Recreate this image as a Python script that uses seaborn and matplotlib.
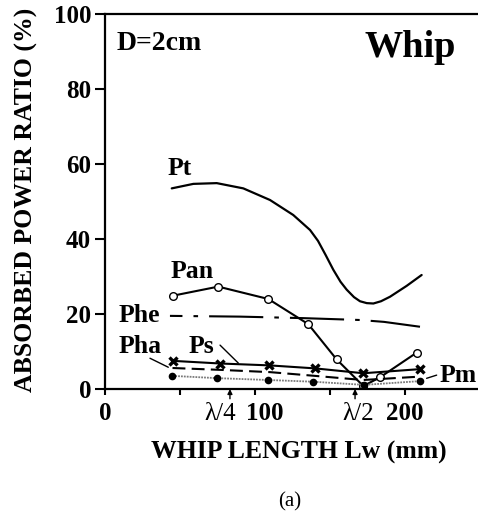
import matplotlib
matplotlib.use("Agg")
import matplotlib.pyplot as plt
import matplotlib.transforms as mtransforms
import seaborn as sns

# Whip length (mm) and absorbed power ratios (%)
pt_x = [44.5, 58.9, 74.5, 92.2, 110.0, 125.5, 136.7, 142.0, 147.0, 152.2, 157.0, 161.1, 166.0, 170.0, 174.5, 178.9, 184.0, 190.0, 201.1, 211.1]
pt_y = [53.5, 54.7, 54.9, 53.5, 50.4, 46.4, 42.4, 39.5, 35.8, 31.8, 28.6, 26.5, 24.5, 23.4, 22.9, 22.8, 23.4, 24.6, 27.5, 30.4]

pan_x = [45.5, 75.5, 108.9, 135.5, 154.4, 172.2, 183.3, 207.8]
pan_y = [24.9, 27.3, 24.0, 17.3, 7.9, 0.8, 3.1, 9.7]

phe_x = [43.3, 90.0, 132.0, 170.0, 186.0, 210.0]
phe_y = [19.5, 19.3, 18.9, 18.4, 17.9, 16.6]

ps_x = [45.5, 76.7, 109.5, 140.0, 172.2, 210.0]
ps_y = [7.5, 6.8, 6.3, 5.5, 4.2, 5.3]

pha_x = [45.0, 77.0, 110.0, 140.0, 172.0, 210.0]
pha_y = [5.6, 5.1, 4.5, 3.5, 2.4, 3.3]

pm_x = [44.9, 74.4, 108.9, 138.4, 172.7, 210.0]
pm_y = [3.5, 2.9, 2.4, 1.95, 1.1, 2.1]

x_ticks = [0, 100, 200]
x_ticklabels = ["0", "100", "200"]
y_ticks = [0, 20, 40, 60, 80, 100]

sns.set_theme(style="ticks")
plt.rcParams["font.family"] = ["Liberation Serif", "DejaVu Serif"]
plt.rcParams["text.color"] = "black"
plt.rcParams["axes.labelcolor"] = "black"
plt.rcParams["xtick.color"] = "black"
plt.rcParams["ytick.color"] = "black"

W, H = 478, 512
fig = plt.figure(figsize=(W / 100, H / 100), dpi=100)
ax = fig.add_axes([105 / W, 1 - 389 / H, 1 - 105 / W, (389 - 14) / H])

sns.lineplot(x=pt_x, y=pt_y, ax=ax, color="black", lw=1.6, sort=False)
sns.lineplot(x=phe_x, y=phe_y, ax=ax, color="black", lw=1.5, sort=False,
             linestyle=(20, (26, 5.3, 2.2, 5.3)))
sns.lineplot(x=pan_x, y=pan_y, ax=ax, color="black", lw=1.5, sort=False,
             marker="o", markersize=5.5, markerfacecolor="white",
             markeredgecolor="black", markeredgewidth=1.0)
sns.lineplot(x=pha_x, y=pha_y, ax=ax, color="black", lw=1.5, sort=False,
             linestyle=(0, (6.2, 3.0)))
sns.lineplot(x=pm_x, y=pm_y, ax=ax, color="#7a7a7a", lw=1.3, sort=False,
             linestyle=(0, (1.0, 0.6)))
sns.lineplot(x=pm_x, y=pm_y, ax=ax, color="black", lw=0, sort=False,
             marker="o", markersize=5.5, markeredgecolor="black",
             markeredgewidth=0)
sns.lineplot(x=ps_x, y=ps_y, ax=ax, color="black", lw=1.5, sort=False,
             marker="x", markersize=6, markeredgecolor="black",
             markeredgewidth=2.4)

ax.set_xlim(0, (W - 105) / 1.5)
ax.set_ylim(0, 100)

for side in ["left", "bottom", "top"]:
    ax.spines[side].set_visible(True)
    ax.spines[side].set_linewidth(1.6)
    ax.spines[side].set_color("black")
ax.spines["right"].set_visible(False)

ax.set_xticks(x_ticks)
ax.set_xticks([50, 150], minor=True)
ax.set_xticklabels(x_ticklabels, fontsize=18, fontweight="bold")
ax.set_yticks(y_ticks)
ax.set_yticklabels([str(v) for v in y_ticks], fontsize=18, fontweight="bold")
ax.tick_params(axis="x", which="both", direction="out", length=4, width=1.5,
               pad=5, bottom=True, top=False, colors="black")
ax.tick_params(axis="y", direction="out", length=7, width=1.5, pad=3,
               left=True, right=False, colors="black")
ax.grid(False)

# nudge the "100" label to the right of its tick
shift = mtransforms.ScaledTranslation(10 / 100, 0, fig.dpi_scale_trans)
lbl = ax.get_xticklabels()[1]
lbl.set_transform(lbl.get_transform() + shift)

tb = dict(fontsize=18.5, fontweight="bold", color="black")

# series labels
ax.text(42, 57, "Pt", va="baseline", **tb)
ax.text(43.8, 29.5, "Pan", va="baseline", **tb)
ax.text(8.9, 17.9, "Phe", va="baseline", **tb)
ax.text(8.9, 9.5, "Pha", va="baseline", **tb)
ax.text(55.5, 9.5, "Ps", va="baseline", **tb)
ax.text(223, 1.9, "Pm", va="baseline", clip_on=False, **tb)

# leader lines
ax.plot([30, 42.2], [8.2, 5.8], color="black", lw=1.0)
ax.plot([76.7, 88.9], [11.7, 6.9], color="black", lw=1.0)
ax.plot([214.4, 221.1], [2.85, 3.7], color="black", lw=1.0)

ax.text(7.8, 90.4, "D=2cm", va="baseline", fontsize=20, fontweight="bold")
ax.text(173.3, 88.6, "Whip", va="baseline", fontsize=27.5, fontweight="bold")

# quarter and half wavelength markers
for xm, xl, txt in [(83.3, 76.7, "λ/4"), (166.7, 169.0, "λ/2")]:
    ax.annotate("", xy=(xm, 0), xytext=(xm, -2.6), annotation_clip=False,
                arrowprops=dict(arrowstyle="-|>", lw=1.0, color="black",
                                mutation_scale=7, shrinkA=0, shrinkB=0))
    ax.text(xl, -3.6, txt, ha="center", va="top", clip_on=False,
            fontsize=18, color="black")

fig.text(299 / W, 1 - 452 / H, "WHIP LENGTH Lw (mm)", ha="center", va="center",
         fontsize=18.5, fontweight="bold")
fig.text(26 / W, 1 - 200 / H, "ABSORBED POWER RATIO (%)", ha="center", va="center",
         rotation=90, fontsize=18.5, fontweight="bold")
fig.text(290 / W, 1 - 502 / H, "(a)", ha="center", va="center", fontsize=15)

fig.savefig("out.png", dpi=100)
